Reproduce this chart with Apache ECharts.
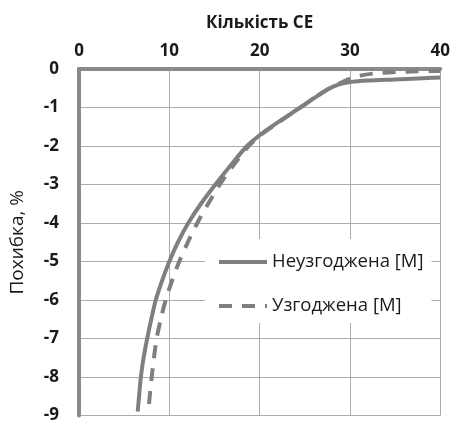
<!DOCTYPE html>
<html>
<head>
<meta charset="utf-8">
<script src="https://cdn.jsdelivr.net/npm/echarts@6/dist/echarts.min.js"></script>
<style>
  html, body { margin: 0; padding: 0; background: #fff; }
  #chart { width: 453px; height: 424px; }
</style>
</head>
<body>
<div id="chart"></div>
<script>
// Error of the estimate versus number of elements (CE)
const xTicks = [0, 10, 20, 30, 40];
const yTicks = [0, -1, -2, -3, -4, -5, -6, -7, -8, -9];

const unmatchedName = 'Неузгоджена [М]';
const unmatchedX = [6.5, 6.65, 6.85, 7.15, 7.55, 8.0, 8.5, 9.2, 10.0, 10.95, 12.1, 13.5, 15.1, 16.8, 18.6, 20, 21.6, 24.5, 26, 27.6, 28.8, 30, 32, 35, 37.5, 40];
const unmatchedY = [-8.9, -8.5, -8, -7.5, -7, -6.5, -6, -5.5, -5, -4.5, -4, -3.5, -3, -2.5, -2, -1.72, -1.45, -1, -0.76, -0.52, -0.4, -0.34, -0.3, -0.27, -0.245, -0.22];

const matchedName = 'Узгоджена [М]';
const matchedX = [7.75, 8.05, 8.3, 8.6, 9.05, 9.6, 10.3, 11.1, 12.05, 13.1, 14.3, 15.6, 17.1, 18.8, 20.1, 21.7, 24.5, 26, 27.6, 28.6, 29.8, 31, 32.5, 35, 37.5, 40];
const matchedY = [-8.7, -8, -7.5, -7, -6.5, -6, -5.5, -5, -4.5, -4, -3.5, -3, -2.5, -2, -1.72, -1.45, -1, -0.76, -0.52, -0.4, -0.27, -0.18, -0.12, -0.08, -0.06, -0.05];

const pairs = (xs, ys) => xs.map((x, i) => [x, ys[i]]);

const grey = '#7f7f7f';
const axisGrey = '#8a8a8a';
const gridGrey = '#ababab';
const ink = '#1a1a1a';
const font = 'Open Sans';

const chart = echarts.init(document.getElementById('chart'), null, { renderer: 'canvas' });
chart.setOption({
  animation: false,
  backgroundColor: '#fff',
  grid: { left: 78, right: 10, top: 69, bottom: 6, containLabel: false },
  xAxis: {
    type: 'value',
    position: 'top',
    min: xTicks[0],
    max: xTicks[xTicks.length - 1],
    interval: 10,
    name: 'Кількість СЕ',
    nameLocation: 'middle',
    nameGap: 37,
    nameTextStyle: { fontFamily: font, fontSize: 17, fontWeight: 'bold', color: ink },
    axisLine: { onZero: false, lineStyle: { color: axisGrey, width: 4 } },
    axisTick: { show: false },
    axisLabel: { fontFamily: font, fontSize: 17, fontWeight: 'bold', color: ink, margin: 9 },
    splitLine: { show: true, lineStyle: { color: gridGrey, width: 1 } }
  },
  yAxis: {
    type: 'value',
    min: yTicks[yTicks.length - 1],
    max: yTicks[0],
    interval: 1,
    name: 'Похибка, %',
    nameLocation: 'middle',
    nameGap: 52,
    nameTextStyle: { fontFamily: font, fontSize: 19, color: ink },
    axisLine: { show: true, onZero: false, lineStyle: { color: axisGrey, width: 4 } },
    axisTick: { show: false },
    axisLabel: { fontFamily: font, fontSize: 17, fontWeight: 'bold', color: ink, margin: 20 },
    splitLine: { show: true, lineStyle: { color: gridGrey, width: 1 } }
  },
  legend: {
    orient: 'vertical',
    left: 205,
    top: 239,
    width: 227,
    backgroundColor: '#fff',
    padding: [12, 8, 6, 12],
    itemWidth: 48,
    itemHeight: 22,
    itemGap: 22,
    itemStyle: { opacity: 0 },
    lineStyle: { width: 4 },
    textStyle: { fontFamily: font, fontSize: 18.5, color: ink, lineHeight: 22 },
    data: [unmatchedName, matchedName]
  },
  series: [
    {
      name: unmatchedName,
      type: 'line',
      smooth: 0.3,
      symbol: 'none',
      lineStyle: { color: grey, width: 4 },
      itemStyle: { color: grey },
      data: pairs(unmatchedX, unmatchedY)
    },
    {
      name: matchedName,
      type: 'line',
      smooth: 0.3,
      symbol: 'none',
      lineStyle: { color: grey, width: 4, type: [13, 10] },
      itemStyle: { color: grey },
      data: pairs(matchedX, matchedY)
    }
  ]
});
</script>
</body>
</html>
